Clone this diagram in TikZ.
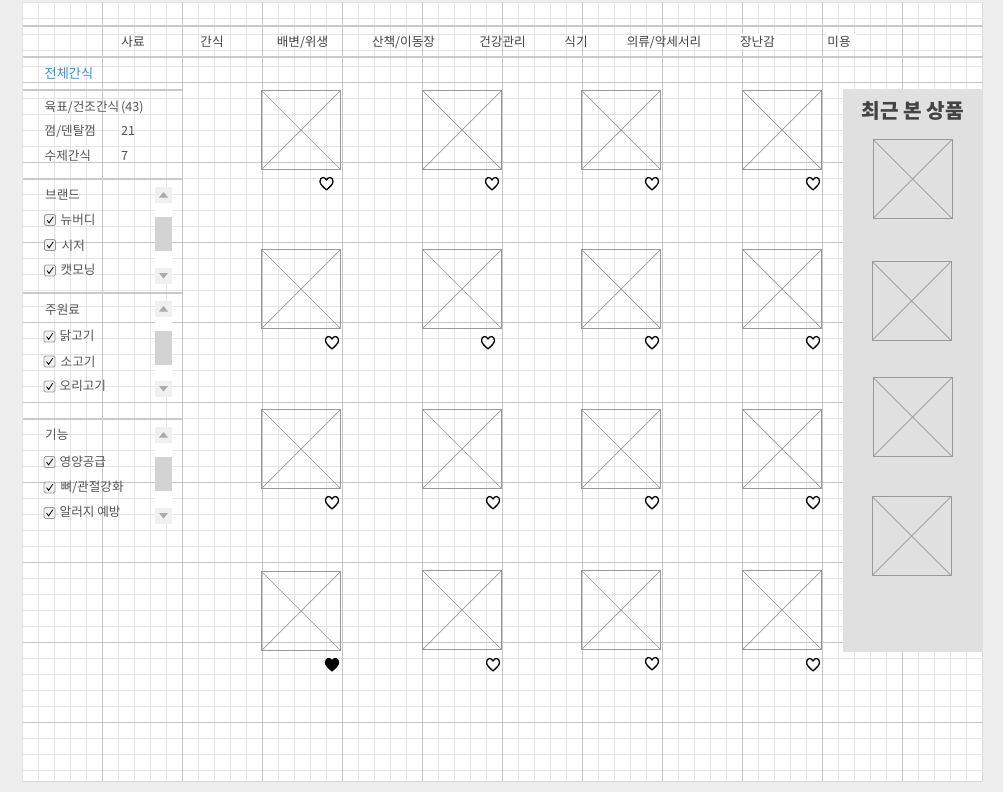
\documentclass[tikz,border=0pt]{standalone}
\usepackage{fontspec}
\setmainfont{Noto Sans CJK KR}
\definecolor{pagebg}{HTML}{EEEEEE}
\definecolor{minorline}{HTML}{E4E4E4}
\definecolor{majorline}{HTML}{C6C6C6}
\definecolor{sectionline}{HTML}{CACACA}
\definecolor{imgline}{HTML}{999999}
\definecolor{panelgray}{HTML}{E0E0E0}
\definecolor{btngray}{HTML}{F0F0F0}
\definecolor{thumbgray}{HTML}{D3D3D3}
\definecolor{arrowgray}{HTML}{ABABAB}
\definecolor{txt}{HTML}{555555}
\definecolor{darktxt}{HTML}{444444}
\definecolor{linkblue}{HTML}{3B8FC4}
\tikzset{
  x=1pt,y=-1pt,
  lbl/.style={inner sep=0pt,anchor=base west,font=\fontsize{12.6}{12.6}\selectfont,text=txt},
  menu/.style={inner sep=0pt,anchor=base,font=\fontsize{12.6}{12.6}\selectfont,text=darktxt},
  imgbox/.style={draw=imgline,line width=1pt},
  imgcross/.style={draw=imgline,line width=.7pt},
  hearto/.style={draw=black,line width=1.3pt,fill=white,line join=round},
  heartf/.style={draw=black,line width=1.3pt,fill=black,line join=round},
}
% image placeholder: left, top
\newcommand{\phimg}[2]{%
  \draw[imgbox] (#1,#2) rectangle ++(79,79);
  \draw[imgcross] (#1,#2) -- ++(79,79);
  \draw[imgcross] (#1+79,#2) -- ++(-79,79);
}
% heart: centre x, centre y, style
\newcommand{\heartat}[3]{%
  \draw[#3] (#1,#2+6.5) .. controls (#1-3,#2+3.5) and (#1-6.5,#2+1) .. (#1-6.5,#2-2)
    .. controls (#1-6.5,#2-7) and (#1-1.5,#2-7) .. (#1,#2-3.5)
    .. controls (#1+1.5,#2-7) and (#1+6.5,#2-7) .. (#1+6.5,#2-2)
    .. controls (#1+6.5,#2+1) and (#1+3,#2+3.5) .. (#1,#2+6.5) -- cycle;
}
% checkbox: left, top
\newcommand{\chk}[2]{%
  \draw[draw=imgline,fill=btngray,line width=.9pt,rounded corners=1.5pt] (#1,#2) rectangle ++(11,11);
  \draw[black,line width=.8pt] (#1+2.6,#2+5.6) -- (#1+4.6,#2+8.4) -- (#1+8.8,#2+2.2);
}
% scrollbar: top of up button, top of thumb, top of down button
\newcommand{\scrollb}[3]{%
  \fill[white] (155,#1) rectangle (172,#3+16);
  \fill[btngray] (155,#1) rectangle (172,#1+16);
  \fill[btngray] (155,#3) rectangle (172,#3+16);
  \fill[thumbgray] (155,#2) rectangle (172,#2+34);
  \fill[arrowgray] (163.5,#1+5) -- (168,#1+10.5) -- (159,#1+10.5) -- cycle;
  \fill[arrowgray] (163.5,#3+10.5) -- (168,#3+5) -- (159,#3+5) -- cycle;
}
\begin{document}
\begin{tikzpicture}
\useasboundingbox (0,0) rectangle (1003,792);
\fill[pagebg] (0,0) rectangle (1003,792);
\fill[white] (22.5,2.5) rectangle (983,781);
\draw[majorline!70,line width=1.2pt] (22.5,2.5) -- (983,2.5);
\draw[majorline!70,line width=1.2pt] (22.5,781.5) -- (983,781.5);
\draw[majorline!70,line width=1.2pt] (982.5,2.5) -- (982.5,781);
\draw[majorline!70,line width=1.2pt] (22.5,2.5) -- (22.5,781);
% minor grid
\foreach \k in {0,...,59} {
  \pgfmathsetmacro{\xx}{22.5+16*\k}
  \draw[minorline,line width=1.4pt] (\xx,2.5) -- (\xx,781);
}
\foreach \k in {0,...,48} {
  \pgfmathsetmacro{\yy}{2.5+16*\k}
  \draw[minorline,line width=1.4pt] (22.5,\yy) -- (983,\yy);
}
% major grid
\foreach \k in {1,...,11} {
  \pgfmathsetmacro{\xx}{22.5+80*\k}
  \draw[majorline,line width=1.6pt] (\xx,2.5) -- (\xx,781);
}
\foreach \k in {1,...,9} {
  \pgfmathsetmacro{\yy}{2.5+80*\k}
  \draw[majorline,line width=1.4pt] (22.5,\yy) -- (983,\yy);
}
% section rules
\draw[sectionline,line width=2pt] (22.5,25.8) -- (983,25.8);
\draw[sectionline,line width=2pt] (22.5,56.8) -- (983,56.8);
\foreach \yy in {90,179,293,418.5} \draw[sectionline,line width=2pt] (22.5,\yy) -- (183,\yy);
% menu
\node[menu] (m1) at (133,47) {사료};
\node[menu] (m2) at (212,47) {간식};
\node[menu] (m3) at (302.5,47) {배변/위생};
\node[menu] (m4) at (403.5,47) {산책/이동장};
\node[menu] (m5) at (502.5,47) {건강관리};
\node[menu] (m6) at (576,47) {식기};
\node[menu] (m7) at (664,47) {의류/악세서리};
\fill[white] (740,34) rectangle (778,49);
\fill[white] (826,34) rectangle (856,49);
\node[menu] (m8) at (757.5,47) {장난감};
\node[menu] (m9) at (839,47) {미용};
% left panel
\node[lbl,text=linkblue,font=\fontsize{13.2}{13.2}\selectfont] (a0) at (44.5,78) {전체간식};
\node[lbl] (a1) at (44.5,111.5) {육표/건조간식};
\node[lbl] (a1n) at (121,111.5) {(43)};
\node[lbl] (a2) at (44.5,135.5) {껌/덴탈껌};
\node[lbl] (a2n) at (121,135.5) {21};
\node[lbl] (a3) at (44.5,160) {수제간식};
\node[lbl] (a3n) at (121,160) {7};
\node[lbl] (b0) at (45,199.5) {브랜드};
\scrollb{187}{217}{268}
\chk{44.5}{214.5}\node[lbl] (b1) at (60.5,224) {뉴버디};
\chk{44.5}{239.5}\node[lbl] (b2) at (61.5,250) {시저};
\chk{44.5}{265}\node[lbl] (b3) at (60.5,274) {캣모닝};
\node[lbl] (c0) at (45,314.5) {주원료};
\scrollb{301}{331}{381}
\chk{44}{331}\node[lbl] (c1) at (59.5,340.5) {닭고기};
\chk{44}{356}\node[lbl] (c2) at (60.5,366) {소고기};
\chk{44}{381}\node[lbl] (c3) at (59.5,390) {오리고기};
\node[lbl] (d0) at (45,439.5) {기능};
\scrollb{427}{457}{508}
\chk{44}{456.5}\node[lbl] (d1) at (59.5,466) {영양공급};
\chk{44}{482}\node[lbl] (d2) at (60.5,491.5) {뼈/관절강화};
\chk{44}{507.5}\node[lbl] (d3) at (59.5,516) {알러지 예방};
% products
\foreach \xx/\yy in {261.5/90.5,422.5/90.5,581.5/90.5,742.5/90.5,
                     261.5/249.5,422.5/249.5,581.5/249.5,742.5/249.5,
                     261.5/409.5,422.5/409.5,581.5/409.5,742.5/409.5,
                     261.5/571.5,422.5/570.5,581.5/570.5,742.5/570.5} {
  \phimg{\xx}{\yy}
}
% hearts
\foreach \xx/\yy in {326.5/183.5,492/183.5,652/183.5,813/183.5,
                     332/342.5,488/342.5,652/342.5,813/342.5,
                     332/502.5,493/502.5,652/502.5,813/502.5,
                     493/664.5,652/663.5,813/664.5} {
  \heartat{\xx}{\yy}{hearto}
}
\heartat{332}{664.5}{heartf}
% recent panel
\fill[panelgray] (843,89) rectangle (983,652);
\node[inner sep=0pt,anchor=base,text=darktxt,font=\fontsize{20.2}{20.2}\selectfont\bfseries] (r0) at (913,118.5) {최근 본 상품};
\phimg{873}{139.5}
\phimg{872}{261.5}
\phimg{873}{377.5}
\phimg{872}{496.5}
\end{tikzpicture}
\end{document}
